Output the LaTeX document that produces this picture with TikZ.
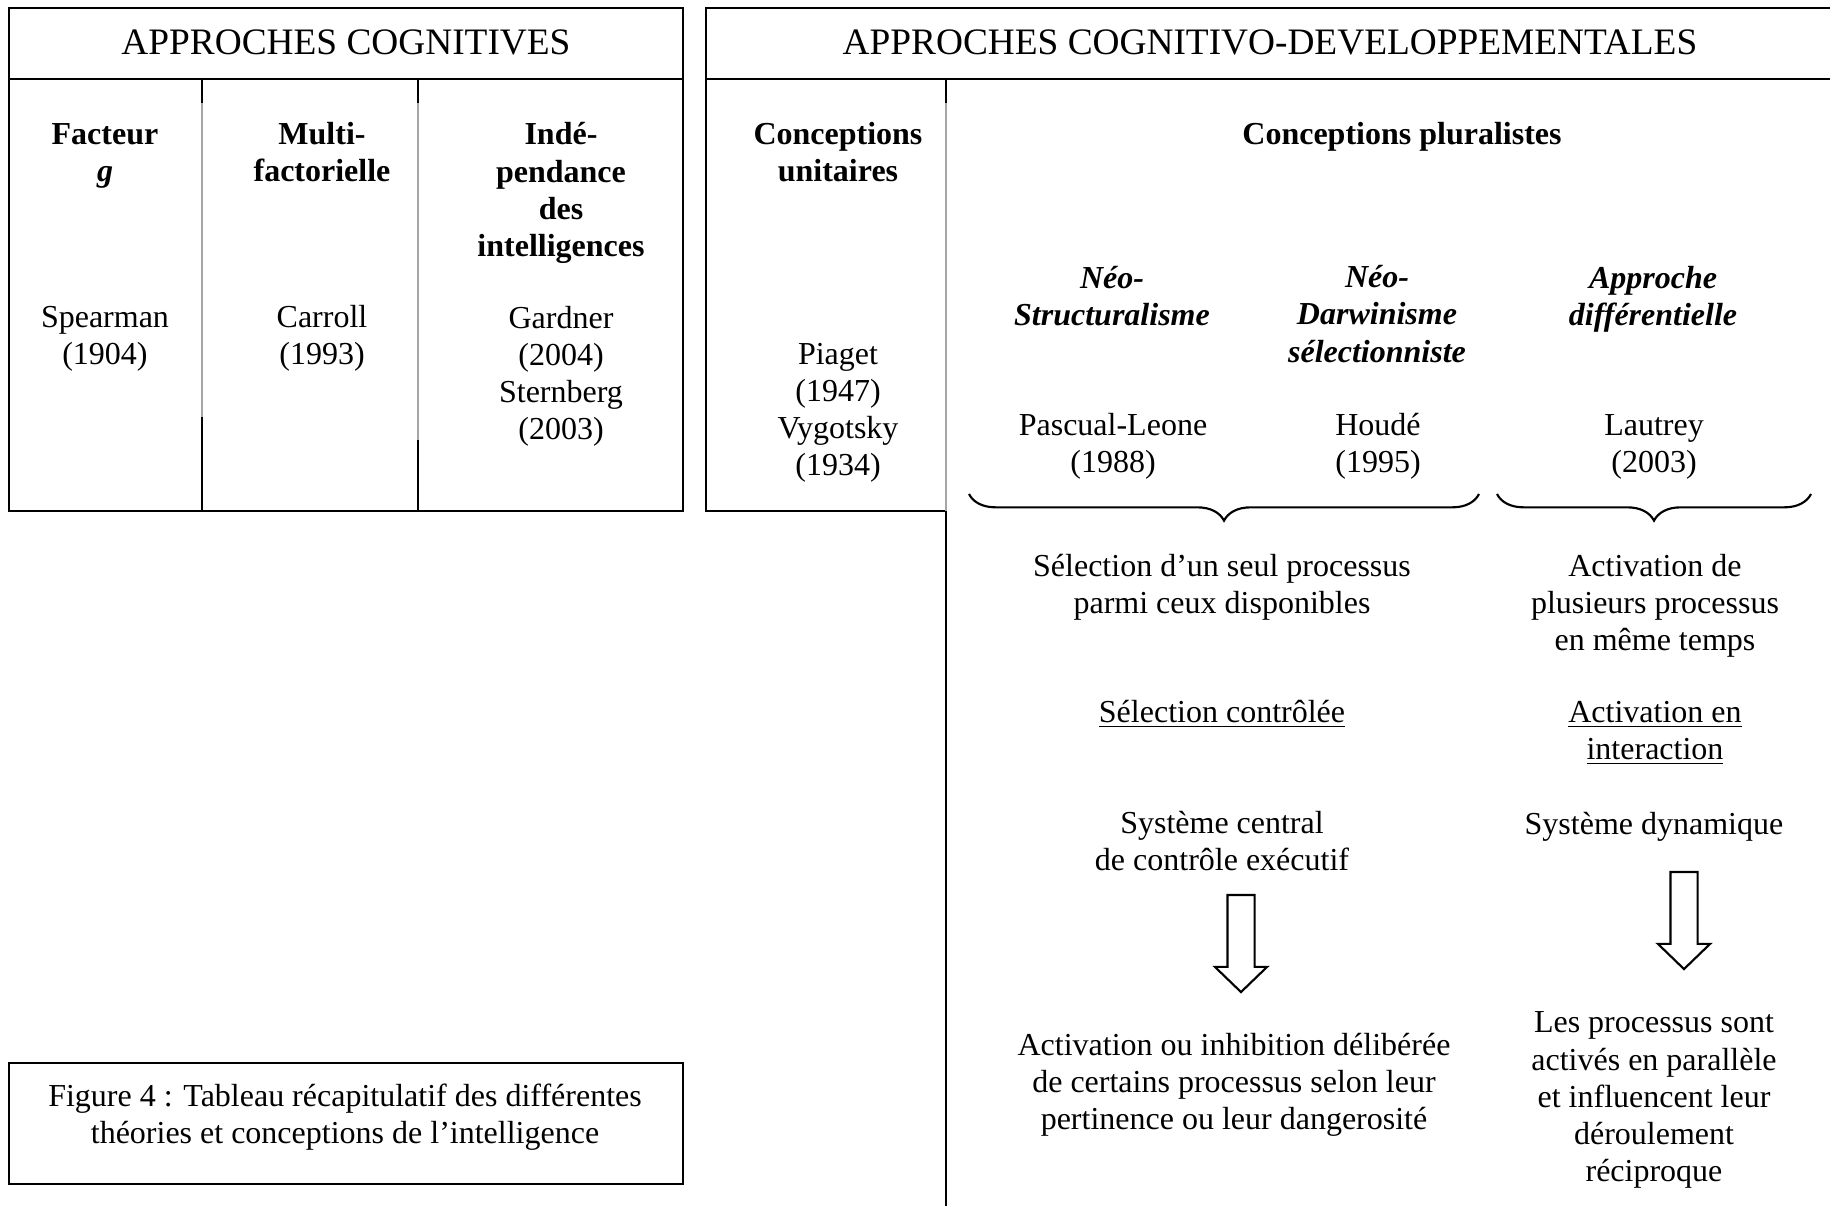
\documentclass[tikz,border=0pt]{standalone}
\usepackage{fontspec}
\setmainfont{Liberation Serif}
\usetikzlibrary{decorations.pathreplacing,shapes.arrows}

\tikzset{
  txt/.style={align=center, inner sep=0pt, font=\fontsize{12}{13.9}\selectfont},
  hd/.style={txt, font=\fontsize{12}{13.9}\selectfont\bfseries},
  ithd/.style={txt, font=\fontsize{12}{13.9}\selectfont\bfseries\itshape},
  ttl/.style={txt, font=\fontsize{14}{16}\selectfont},
  frame/.style={line width=0.8pt},
  faint/.style={gray!70, line width=0.4pt},
  bracket/.style={line width=0.8pt, decorate, decoration={brace, mirror, amplitude=10pt}},
  blockarrow/.style={draw, line width=0.8pt, single arrow, shape border rotate=270,
    minimum width=18.75pt, minimum height=36.4pt, single arrow head extend=4.7pt,
    single arrow tip angle=92, inner sep=4.69pt, outer sep=0pt}
}

\begin{document}
\begin{tikzpicture}[x=0.375pt, y=-0.375pt]
        \useasboundingbox (0,0) rectangle (1830,1206);

        % approches cognitives
        \draw[frame] (9,8) rectangle (683,511);
        \draw[frame] (9,79) -- (683,79);
        \draw[frame] (202,79) -- (202,103);
        \draw[faint] (202,103) -- (202,417);
        \draw[frame] (202,417) -- (202,511);
        \draw[frame] (418,79) -- (418,103);
        \draw[faint] (418,103) -- (418,440);
        \draw[frame] (418,440) -- (418,511);

        \node[ttl] (cog) at (346,42) {APPROCHES COGNITIVES};
        \node[hd] (facteur) at (105,156) {Facteur\\\textit{g}};
        \node[hd] (multi) at (322,152) {Multi-\\factorielle};
        \node[hd] (indep) at (561,193) {Indé-\\pendance\\des\\intelligences};
        \node[txt] (spearman) at (105,339) {Spearman\\(1904)};
        \node[txt] (carroll) at (322,338) {Carroll\\(1993)};
        \node[txt] (gardner) at (561,376) {Gardner\\(2004)\\Sternberg\\(2003)};

        % approches cognitivo-developpementales
        \draw[frame] (1830,8) -- (706,8) -- (706,511) -- (946,511);
        \draw[frame] (706,79) -- (1830,79);
        \draw[frame] (946,79) -- (946,103);
        \draw[faint] (946,103) -- (946,511);
        \draw[frame] (946,511) -- (946,1206);

        \node[ttl] (dev) at (1270,42) {APPROCHES COGNITIVO-DEVELOPPEMENTALES};
        \node[hd] (unit) at (838,152) {Conceptions\\unitaires};
        \node[txt] (piaget) at (838,413) {Piaget\\(1947)\\Vygotsky\\(1934)};
        \node[hd] (plur) at (1402,137) {Conceptions pluralistes};

        \node[ithd] (neostruct) at (1112,296) {Néo-\\Structuralisme};
        \node[ithd] (neodarw) at (1377,314) {Néo-\\Darwinisme\\sélectionniste};
        \node[ithd] (diff) at (1653,299) {Approche\\différentielle};
        \node[txt] (pascual) at (1113,446) {Pascual-Leone\\(1988)};
        \node[txt] (houde) at (1378,446) {Houdé\\(1995)};
        \node[txt] (lautrey) at (1654,447) {Lautrey\\(2003)};

        \coordinate (bra) at (969,494);
        \coordinate (brb) at (1479,494);
        \coordinate (brc) at (1497,494);
        \coordinate (brd) at (1811,494);
        \draw[bracket] (bra) -- (brb);
        \draw[bracket] (brc) -- (brd);

        \node[txt] (selun) at (1222,587) {Sélection d’un seul processus\\parmi ceux disponibles};
        \node[txt] (actplus) at (1655,606) {Activation de\\plusieurs processus\\en même temps};
        \node[txt] (selctrl) at (1222,714) {\underline{Sélection contrôlée}};
        \node[txt] (actint) at (1655,733) {\underline{Activation en}\\\underline{interaction}};
        \node[txt] (central) at (1222,841) {Système central\\de contrôle exécutif};
        \node[txt] (dyn) at (1654,827) {Système dynamique};

        \node[blockarrow, anchor=tail] (arra) at (1241,895) {};
        \node[blockarrow, anchor=tail] (arrb) at (1684,872) {};

        \node[txt] (inhib) at (1234,1085) {Activation ou inhibition délibérée\\de certains processus selon leur\\pertinence ou leur dangerosité};
        \node[txt] (paral) at (1654,1100) {Les processus sont\\activés en parallèle\\et influencent leur\\déroulement\\réciproque};

        % legende
        \draw[frame] (9,1063) rectangle (683,1184);
        \node[txt] (legende) at (345,1117) {Figure 4 : Tableau récapitulatif des différentes\\théories et conceptions de l’intelligence};
    \end{tikzpicture}
\end{document}
